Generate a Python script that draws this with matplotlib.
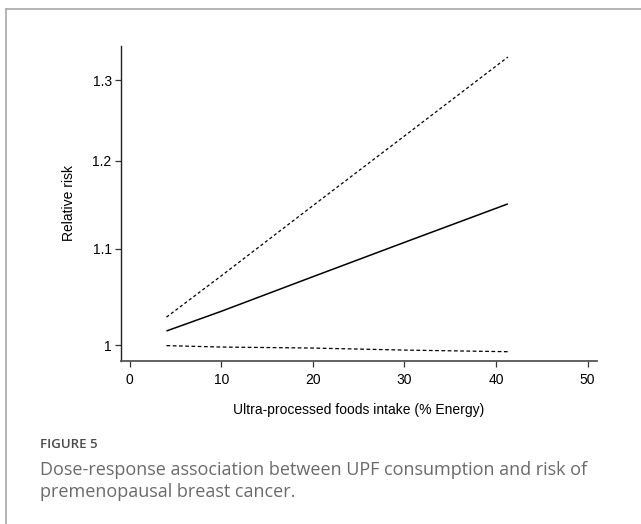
import numpy as np
import matplotlib.pyplot as plt
from matplotlib.lines import Line2D
from matplotlib.ticker import FixedLocator, FixedFormatter, NullLocator

# %% data
intake = [4.0, 10, 20, 30, 41.3]
rr = [1.014, 1.034, 1.070, 1.107, 1.150]
rr_upper = [1.028, 1.071, 1.148, 1.230, 1.330]
rr_lower = [0.9994, 0.998, 0.997, 0.995, 0.9934]

x_ticks = [0, 10, 20, 30, 40, 50]
y_ticks = [1, 1.1, 1.2, 1.3]
y_tick_labels = ['1', '1.1', '1.2', '1.3']

caption_head = 'FIGURE 5'
caption = ('Dose-response association between UPF consumption and risk of\n'
           'premenopausal breast cancer.')

# %% plot
W, H = 641, 524
fig = plt.figure(figsize=(W / 100, H / 100), dpi=100)
ax = fig.add_axes([120.7 / W, 1 - 361 / H, (596.7 - 120.7) / W, (361 - 45.7) / H])

ax.plot(intake, rr, color='k', lw=1.1, solid_capstyle='butt')
ax.plot(intake, rr_upper, color='k', lw=0.9, ls=(0, (2.5, 2)))
ax.plot(intake, rr_lower, color='k', lw=0.9, ls=(0, (3, 2)))

ax.set_yscale('log')
ax.set_xlim(-1, 51)
ax.set_ylim(0.9843, 1.345)
ax.xaxis.set_major_locator(FixedLocator(x_ticks))
ax.yaxis.set_major_locator(FixedLocator(y_ticks))
ax.yaxis.set_major_formatter(FixedFormatter(y_tick_labels))
ax.yaxis.set_minor_locator(NullLocator())

for side in ['top', 'right']:
    ax.spines[side].set_visible(False)
ax.spines['left'].set_color('#222222')
ax.spines['bottom'].set_color('#555555')
ax.spines['left'].set_linewidth(1.0)
ax.spines['bottom'].set_linewidth(1.3)
ax.tick_params(axis='both', direction='out', length=4.5, width=0.9,
               color='#333333', labelsize=10, pad=2,
               labelfontfamily='Liberation Sans')
ax.tick_params(axis='x', pad=4)
ax.set_xlabel('Ultra-processed foods intake (% Energy)', fontsize=10,
              family='Liberation Sans', labelpad=12)
ax.set_ylabel('Relative risk', fontsize=10, family='Liberation Sans',
              labelpad=12)

# frame around the figure panel
fig.add_artist(Line2D([6 / W, 1], [1 - 9 / H, 1 - 9 / H], color='#a8a8a8',
                      lw=1.2, transform=fig.transFigure))
fig.add_artist(Line2D([6 / W, 6 / W], [0, 1 - 9 / H], color='#a8a8a8',
                      lw=1.2, transform=fig.transFigure))

fig.text(40 / W, 1 - 444 / H, caption_head, fontsize=9.5, family='Open Sans',
         weight='semibold', color='#4a4a4a', va='center', ha='left')
fig.text(40 / W, 1 - 481 / H, caption, fontsize=13, family='Open Sans',
         color='#6a6a6a', va='center', ha='left', linespacing=1.3)

fig.savefig('out.png', dpi=100)
